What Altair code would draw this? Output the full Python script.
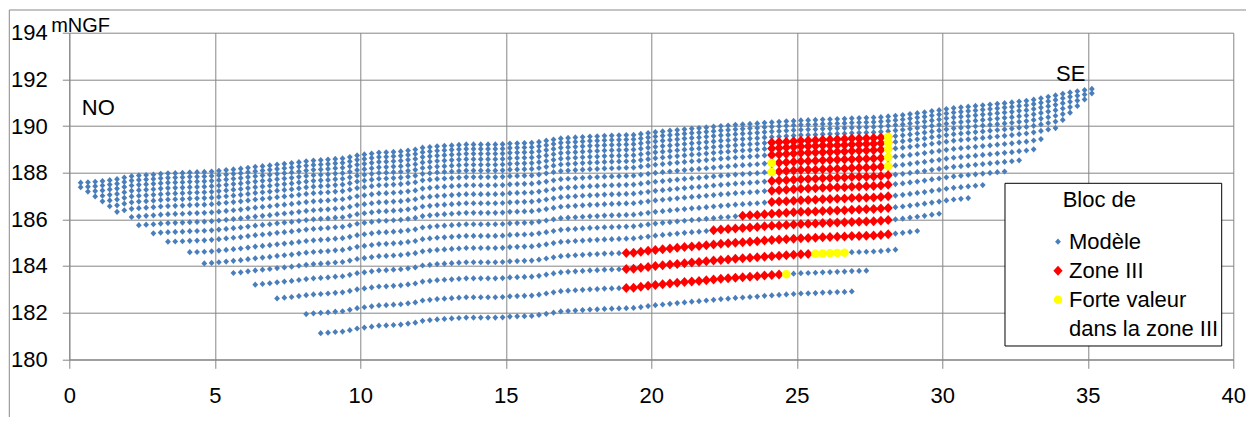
import altair as alt
import pandas as pd

FONT = "Liberation Sans, Arial, sans-serif"

# ---------------- model mesh ----------------
col_x_start = 0.39      # m, abscissa of the first model column
col_spacing = 0.25      # m between model columns

# elevation (mNGF) of the top row of the model, one value per column
top_elev = [
    187.57, 187.59, 187.61, 187.64, 187.68, 187.72, 187.79, 187.85, 187.88, 187.90,
    187.92, 187.95, 187.97, 187.98, 187.99, 188.01, 188.02, 188.03, 188.05, 188.08,
    188.11, 188.14, 188.17, 188.21, 188.25, 188.28, 188.31, 188.35, 188.38, 188.41,
    188.45, 188.49, 188.52, 188.54, 188.56, 188.59, 188.61, 188.67, 188.74, 188.78,
    188.82, 188.86, 188.87, 188.89, 188.91, 188.95, 188.99, 189.07, 189.10, 189.13,
    189.15, 189.17, 189.19, 189.21, 189.21, 189.21, 189.21, 189.21, 189.22, 189.25,
    189.26, 189.27, 189.28, 189.32, 189.37, 189.42, 189.47, 189.49, 189.51, 189.53,
    189.55, 189.56, 189.58, 189.59, 189.60, 189.61, 189.62, 189.66, 189.70, 189.74,
    189.77, 189.80, 189.83, 189.86, 189.89, 189.91, 189.94, 189.97, 190.00, 190.02,
    190.05, 190.07, 190.09, 190.11, 190.14, 190.16, 190.18, 190.20, 190.22, 190.24,
    190.25, 190.26, 190.28, 190.29, 190.30, 190.31, 190.33, 190.34, 190.35, 190.36,
    190.38, 190.41, 190.44, 190.47, 190.51, 190.55, 190.59, 190.64, 190.68, 190.73,
    190.77, 190.80, 190.83, 190.86, 190.89, 190.92, 190.95, 190.98, 191.01, 191.05,
    191.08, 191.13, 191.19, 191.25, 191.31, 191.38, 191.44, 191.49, 191.54, 191.59,
]

# depth (m) of every model row below the top row
layer_depth = [0.00, 0.19, 0.40, 0.63, 0.87, 1.12, 1.40, 1.75, 2.13,
               2.52, 2.93, 3.42, 3.92, 4.44, 5.05, 5.74, 6.55, 7.42]
layer_first_col = [0, 0, 1, 2, 3, 4, 5, 7, 8, 10, 12, 15, 17, 21, 24, 27, 31, 33]
layer_last_col = [139, 139, 138, 137, 136, 135, 134, 132, 131,
                  129, 127, 124, 122, 118, 115, 112, 108, 106]

# Zone III blocks: row number, first column, last column
zone3_layer = [5, 6, 7, 8, 9, 10, 11, 12, 13, 14, 15, 16, 17]
zone3_first = [95, 95, 95, 95, 95, 95, 95, 95, 91, 87, 75, 75, 75]
zone3_last = [111, 111, 111, 111, 111, 111, 111, 111, 111, 111, 111, 100, 96]

# high values inside zone III: row number, column
forte_layer = [5, 6, 7, 8, 9, 8, 9, 16, 16, 16, 16, 16, 17]
forte_col = [111, 111, 111, 111, 111, 95, 95, 101, 102, 103, 104, 105, 97]

series = ["Modèle", "Zone III", "Forte valeur", "dans la zone III"]
series_color = ["#4A7EBB", "#FF0000", "#FFFF00", "rgba(0,0,0,0)"]
series_shape = [
    "M0,-0.62L0.58,0L0,0.62L-0.58,0Z",
    "M0,-1L0.92,0L0,1L-0.92,0Z",
    "M-0.85,0A0.85,0.85,0,1,0,0.85,0A0.85,0.85,0,1,0,-0.85,0Z",
    "M-0.85,0A0.85,0.85,0,1,0,0.85,0A0.85,0.85,0,1,0,-0.85,0Z",
]
legend_title = "Bloc de"

x_ticks = [0, 5, 10, 15, 20, 25, 30, 35, 40]
y_ticks = [180, 182, 184, 186, 188, 190, 192, 194]

labels_text = ["NO", "SE"]
labels_x = [0.43, 33.91]
labels_y = [190.47, 191.94]

# ---------------- build table ----------------
def block(layer, col):
    return (col_x_start + col_spacing * col, top_elev[col] - layer_depth[layer - 1])

recs = []
for k in range(len(layer_depth)):
    for c in range(layer_first_col[k], layer_last_col[k] + 1):
        x, y = block(k + 1, c)
        recs.append({"x": x, "y": y, "serie": series[0]})
for lay, c0, c1 in zip(zone3_layer, zone3_first, zone3_last):
    for c in range(c0, c1 + 1):
        x, y = block(lay, c)
        recs.append({"x": x, "y": y, "serie": series[1]})
for lay, c in zip(forte_layer, forte_col):
    x, y = block(lay, c)
    recs.append({"x": x, "y": y, "serie": series[2]})
df = pd.DataFrame(recs)

x_enc = alt.X("x:Q", scale=alt.Scale(domain=[0, 40], nice=False, zero=False),
              axis=alt.Axis(values=x_ticks, title=None, tickSize=9, labelPadding=17,
                            labelFlush=False, labelOverlap=False))
y_enc = alt.Y("y:Q", scale=alt.Scale(domain=[180, 194], nice=False, zero=False),
              axis=alt.Axis(values=y_ticks, title="mNGF", titleAngle=0, titleAlign="left",
                            titleBaseline="alphabetic", titleX=-18.6, titleY=-0.7,
                            tickSize=7, labelPadding=15, labelFlush=False, labelOverlap=False))

legend = alt.Legend(
    title=None, orient="none", legendX=977.7, legendY=198,
    labelFont=FONT, labelFontSize=22, labelColor="black", labelLimit=400,
    symbolSize=100, symbolStrokeWidth=0, labelOffset=0,
    rowPadding=7, padding=0,
)

points = alt.Chart(df).mark_point(filled=True, opacity=1, size=100, strokeWidth=0).encode(
    x=x_enc, y=y_enc,
    color=alt.Color("serie:N", scale=alt.Scale(domain=series, range=series_color), legend=legend),
    shape=alt.Shape("serie:N", scale=alt.Scale(domain=series, range=series_shape), legend=legend),
)

ann = pd.DataFrame({"x": labels_x, "y": labels_y, "t": labels_text})
text = alt.Chart(ann).mark_text(align="left", baseline="alphabetic", font=FONT,
                                fontSize=22, color="black").encode(x=x_enc, y=y_enc, text="t:N")

one = pd.DataFrame({"t": [legend_title]})
box = alt.Chart(one).mark_rect(fill="white", stroke="black", strokeWidth=1).encode(
    x=alt.value(935.7), x2=alt.value(1152.4), y=alt.value(150.6), y2=alt.value(313.3))
box_title = alt.Chart(one).mark_text(align="left", baseline="alphabetic", font=FONT,
                                     fontSize=22, color="black").encode(
    x=alt.value(993.4), y=alt.value(174.8), text="t:N")
frame_left = alt.Chart(one).mark_rule(color="#8a8a8a", strokeWidth=1).encode(
    x=alt.value(-60), y=alt.value(-22.7), y2=alt.value(420))
frame_top = alt.Chart(one).mark_rule(color="#8a8a8a", strokeWidth=1).encode(
    x=alt.value(-60), x2=alt.value(1200), y=alt.value(-22.7))

chart = alt.layer(frame_left, frame_top, points, box, box_title, text).properties(
    width=1164, height=326.6,
    padding={"left": 61.3, "top": 24.7, "right": 12.5, "bottom": 58},
    autosize=alt.AutoSizeParams(type="none"),
).configure_view(stroke=None).configure_axis(
    gridColor="#868686", gridWidth=1, domainColor="#868686", domainWidth=1,
    tickColor="#868686", tickWidth=1,
    labelFont=FONT, labelFontSize=22, labelColor="black",
    titleFont=FONT, titleFontSize=20, titleFontWeight="normal", titleColor="black",
)

chart.save("out.html", embed_options={"renderer": "svg", "actions": False})
